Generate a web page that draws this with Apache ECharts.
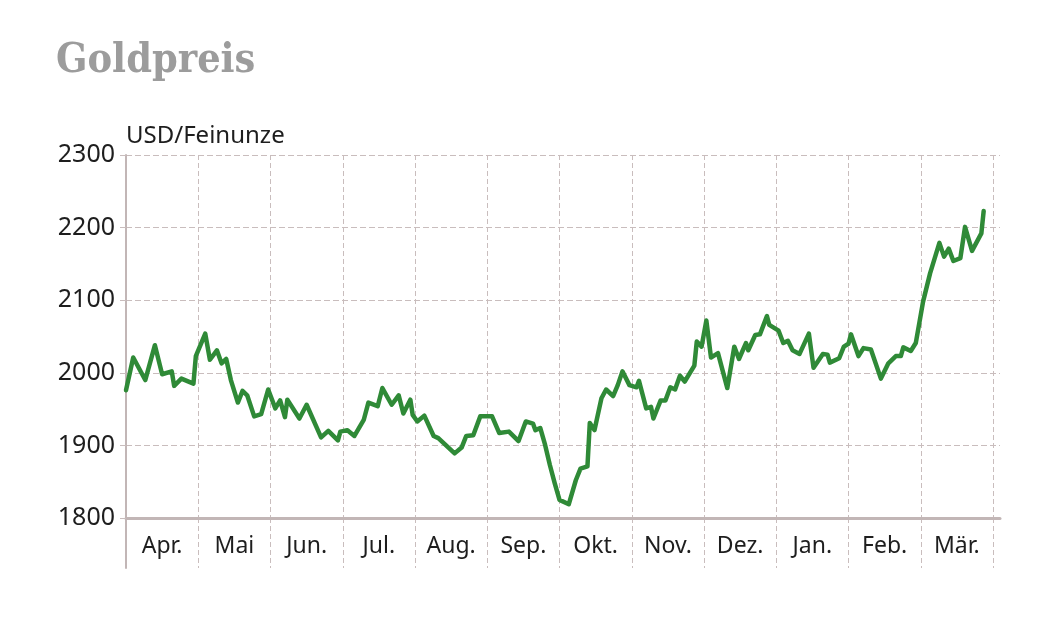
<!DOCTYPE html>
<html>
<head>
<meta charset="utf-8">
<script src="https://cdn.jsdelivr.net/npm/echarts@6/dist/echarts.min.js"></script>
<style>
html,body{margin:0;padding:0;background:#fff;}
#chart{width:1060px;height:626px;}
</style>
</head>
<body>
<div id="chart"></div>
<script>
const titleText = 'Goldpreis';
const unitText = 'USD/Feinunze';
const months = ['Apr.','Mai','Jun.','Jul.','Aug.','Sep.','Okt.','Nov.','Dez.','Jan.','Feb.','Mär.'];
const yMin = 1800, yMax = 2300, yStep = 100;

const dates = [
 '2023-04-01','2023-04-04','2023-04-09','2023-04-13','2023-04-16','2023-04-20','2023-04-21','2023-04-24','2023-04-29','2023-04-30',
 '2023-05-04','2023-05-06','2023-05-09','2023-05-11','2023-05-13','2023-05-15','2023-05-18','2023-05-20','2023-05-22','2023-05-25','2023-05-28','2023-05-31',
 '2023-06-03','2023-06-05','2023-06-07','2023-06-08','2023-06-13','2023-06-16','2023-06-22','2023-06-25','2023-06-29','2023-06-30',
 '2023-07-03','2023-07-06','2023-07-10','2023-07-12','2023-07-16','2023-07-18','2023-07-22','2023-07-25','2023-07-27','2023-07-30','2023-07-31',
 '2023-08-02','2023-08-05','2023-08-09','2023-08-11','2023-08-18','2023-08-21','2023-08-23','2023-08-26','2023-08-29',
 '2023-09-03','2023-09-06','2023-09-10','2023-09-14','2023-09-17','2023-09-20','2023-09-21','2023-09-23','2023-09-25','2023-09-27','2023-09-29',
 '2023-10-01','2023-10-05','2023-10-08','2023-10-10','2023-10-13','2023-10-14','2023-10-16','2023-10-19','2023-10-21','2023-10-24','2023-10-26','2023-10-28','2023-10-31',
 '2023-11-03','2023-11-04','2023-11-07','2023-11-09','2023-11-10','2023-11-13','2023-11-15','2023-11-17','2023-11-19','2023-11-21','2023-11-23','2023-11-27','2023-11-28','2023-11-30',
 '2023-12-02','2023-12-04','2023-12-07','2023-12-11','2023-12-14','2023-12-16','2023-12-19','2023-12-20','2023-12-23','2023-12-25','2023-12-28','2023-12-29',
 '2024-01-02','2024-01-04','2024-01-06','2024-01-08','2024-01-11','2024-01-15','2024-01-17','2024-01-21','2024-01-23','2024-01-24','2024-01-28','2024-01-30',
 '2024-02-01','2024-02-02','2024-02-05','2024-02-07','2024-02-10','2024-02-14','2024-02-17','2024-02-20','2024-02-22','2024-02-23','2024-02-26','2024-02-28',
 '2024-03-02','2024-03-05','2024-03-09','2024-03-11','2024-03-13','2024-03-15','2024-03-18','2024-03-20','2024-03-23','2024-03-27','2024-03-28'
];
const prices = [
 1976,2021,1990,2038,1998,2002,1982,1992,1985,2023,
 2054,2018,2031,2013,2019,1990,1959,1975,1969,1940,1943,1977,
 1951,1962,1939,1963,1937,1956,1911,1920,1907,1919,
 1921,1913,1935,1959,1954,1979,1956,1969,1944,1963,1942,
 1933,1941,1913,1910,1889,1897,1913,1914,1940,
 1940,1917,1919,1906,1933,1930,1921,1924,1901,1873,1848,
 1825,1819,1852,1868,1871,1931,1921,1965,1977,1968,1983,2002,1983,
 1980,1989,1951,1953,1937,1962,1962,1980,1977,1996,1988,2010,2043,2036,
 2072,2021,2027,1979,2036,2019,2041,2031,2052,2053,2078,2066,
 2058,2041,2044,2031,2026,2054,2007,2026,2025,2014,2020,2036,
 2040,2053,2023,2034,2032,1992,2013,2023,2023,2035,2030,2041,
 2098,2137,2179,2160,2171,2154,2158,2201,2168,2192,2223
];

// position of a date on a uniform month scale (0 = 1 April 2023)
function monthPos(s){
  const p = s.split('-').map(Number);
  const idx = (p[0]-2023)*12 + (p[1]-4);
  const len = new Date(p[0], p[1], 0).getDate();
  return idx + (p[2]-1)/len;
}
const seriesData = dates.map((d,i)=>[monthPos(d), prices[i]]);

const gridColor = '#c9bdbd';
const axisColor = '#c2b6b6';
const textColor = '#1e1e1e';
const font = 'Noto Sans';

const chart = echarts.init(document.getElementById('chart'), null, {renderer:'canvas'});
chart.setOption({
  animation:false,
  backgroundColor:'#fff',
  title:{
    text:titleText, left:51, top:36,
    textStyle:{fontFamily:'DejaVu Serif Condensed, DejaVu Serif', fontWeight:900, fontSize:41, color:'#9c9c9c'}
  },
  grid:[
    {left:126, top:155, width:874, height:363},
    {left:126, top:155, width:867, height:363},
    {left:126, top:518, width:867, height:50}
  ],
  xAxis:[
    {gridIndex:0, type:'value', min:0, max:1, show:true,
     axisLine:{show:true, onZero:false, lineStyle:{color:axisColor, width:3}},
     axisTick:{show:false}, axisLabel:{show:false}, splitLine:{show:false}},
    {gridIndex:1, type:'value', min:0, max:12, interval:1,
     axisLine:{show:false}, axisTick:{show:false}, axisLabel:{show:false},
     splitLine:{show:true, lineStyle:{color:gridColor, width:1, type:[5,3]}}},
    {gridIndex:2, type:'category', data:months, position:'top', boundaryGap:true,
     axisLine:{show:false}, axisTick:{show:false},
     axisLabel:{show:true, inside:true, margin:17, color:textColor, fontFamily:font, fontSize:23},
     splitLine:{show:true, interval:0, lineStyle:{color:gridColor, width:1, type:[5,3]}}}
  ],
  yAxis:[
    {gridIndex:0, type:'value', min:yMin, max:yMax, interval:yStep,
     axisLine:{show:true, lineStyle:{color:axisColor, width:2}},
     axisTick:{show:true, length:6, lineStyle:{color:gridColor, width:1}},
     axisLabel:{show:true, margin:11, color:textColor, fontFamily:font, fontSize:25,
                formatter:(v)=>String(v)},
     splitLine:{show:true, lineStyle:{color:gridColor, width:1, type:[6,3]}},
     name:unitText, nameLocation:'end', nameGap:7,
     nameTextStyle:{align:'left', color:textColor, fontFamily:font, fontSize:24}},
    {gridIndex:1, type:'value', min:yMin, max:yMax, interval:yStep, show:false},
    {gridIndex:2, type:'value', min:0, max:1,
     axisLine:{show:true, lineStyle:{color:axisColor, width:2}},
     axisTick:{show:false}, axisLabel:{show:false}, splitLine:{show:false}}
  ],
  series:[{
    type:'line', xAxisIndex:1, yAxisIndex:1, data:seriesData,
    showSymbol:false, symbol:'none', smooth:false,
    lineStyle:{color:'#2f8a37', width:4.5, join:'round', cap:'round'},
    z:5
  }]
});
</script>
</body>
</html>
